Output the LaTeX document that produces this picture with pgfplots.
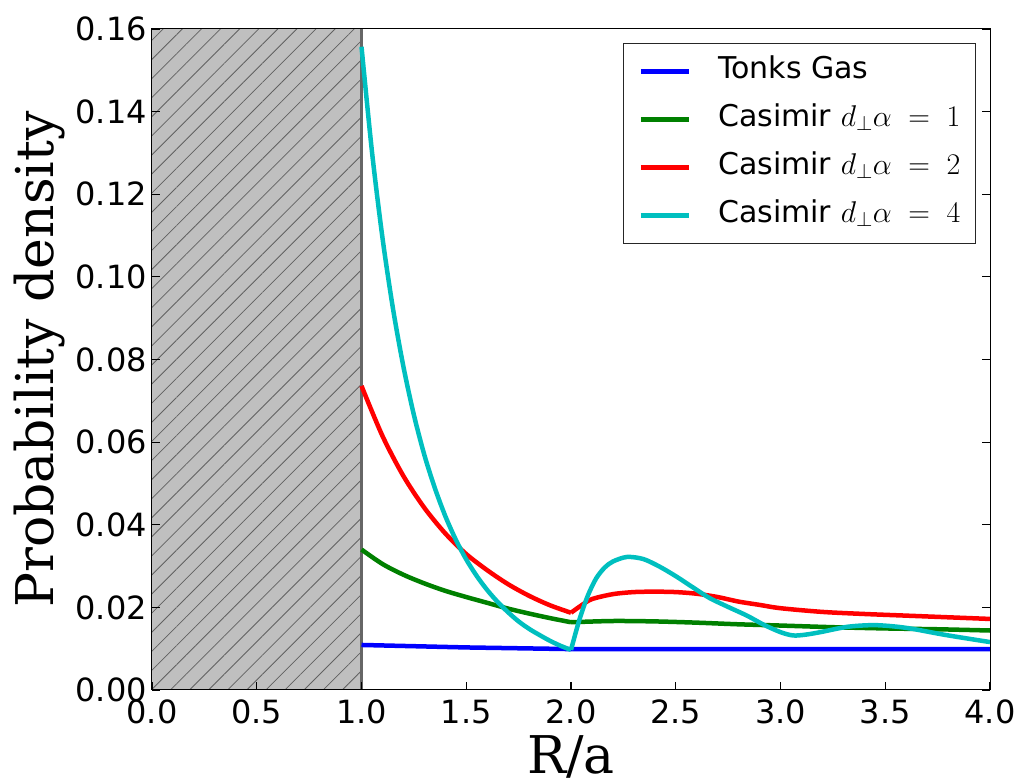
\RequirePackage{fix-cm}
\documentclass[border=0pt]{standalone}
\usepackage{pgfplots}
\pgfplotsset{compat=1.18}
\usepackage{fontspec}
\setmainfont{DejaVu Sans}
\newfontfamily\dvserif{DejaVu Serif}
\usetikzlibrary{patterns.meta}
\definecolor{mplgreen}{rgb}{0,0.5,0}
\definecolor{mplcyan}{rgb}{0,0.75,0.75}
\definecolor{hatchbg}{gray}{0.75}
\definecolor{hatchline}{gray}{0.38}
\begin{document}
\begin{tikzpicture}
\path[use as bounding box] (0,0) rectangle (1021pt,784pt);
\begin{axis}[
  at={(152pt,94pt)}, anchor=south west,
  scale only axis, width=838pt, height=661pt,
  xmin=0, xmax=4, ymin=0, ymax=0.16,
  xtick={0,0.5,1,1.5,2,2.5,3,3.5,4},
  xticklabels={0.0,0.5,1.0,1.5,2.0,2.5,3.0,3.5,4.0},
  ytick={0,0.02,0.04,0.06,0.08,0.10,0.12,0.14,0.16},
  yticklabels={0.00,0.02,0.04,0.06,0.08,0.10,0.12,0.14,0.16},
  xtick pos=bottom, ytick pos=both,
  tick align=inside, major tick length=8pt,
  tick style={black, line width=1.2pt},
  axis line style={black, line width=1pt},
  scaled y ticks=false,
  xticklabel style={font=\fontsize{32}{32}\selectfont, inner sep=0pt, anchor=north, yshift=-10pt},
  yticklabel style={font=\fontsize{32}{32}\selectfont, inner sep=0pt, anchor=east, xshift=-5pt},
  xlabel={R/a}, ylabel={Probability density},
  xlabel style={font=\dvserif\fontsize{52}{52}\selectfont, at={(axis description cs:0.5,0)}, anchor=base, inner sep=0pt, yshift=-84pt},
  ylabel style={font=\dvserif\fontsize{52}{52}\selectfont, at={(axis description cs:-0.1181,0.5)}, anchor=base, inner sep=0pt},
  axis on top,
  legend cell align=left,
  legend style={at={(1,1)}, xshift=-14pt, yshift=-14pt, anchor=north east,
    draw=black!85, line width=1pt, fill=white,
    font=\fontsize{30}{30}\selectfont,
    inner xsep=15pt, inner ysep=13pt, row sep=18pt,
    nodes={inner sep=0pt, text height=22pt, text depth=8pt},
    /tikz/every odd column/.append style={column sep=27pt}},
  legend image code/.code={\draw[#1, line width=4.5pt] (0pt,0pt) -- (48pt,0pt);},
  every axis plot/.append style={line width=4.5pt, line join=round},
]
\addplot[forget plot, draw=hatchline, line width=1pt, fill=hatchbg,
  postaction={pattern={Lines[angle=45,distance=13.5pt,line width=0.8pt]}, pattern color=hatchline}]
  coordinates {(0,0) (1,0) (1,0.16) (0,0.16)} -- cycle;
\addplot[forget plot, draw=black!60, line width=2.5pt] coordinates {(1,0) (1,0.16)};

% Tonks gas
\addplot[blue, line width=4.5pt] coordinates {(1.0,0.0109) (1.25,0.0106) (1.5,0.0103) (1.75,0.0101) (2.0,0.0099) (2.5,0.0099) (3.0,0.0099) (3.5,0.0099) (4.0,0.0099)};
\addlegendentry{Tonks Gas}
% d alpha = 1
\addplot[mplgreen, smooth, line width=4.5pt] coordinates {(1.0,0.0340) (1.1,0.0305) (1.2,0.0279) (1.3,0.0258) (1.4,0.0240) (1.5,0.0225) (1.6,0.0211) (1.7,0.0197) (1.8,0.0185) (1.9,0.0174) (2.0,0.0164)};
\addlegendentry{Casimir $d_{\perp}\alpha\;=\;1$}
% d alpha = 2
\addplot[red, smooth, line width=4.5pt] coordinates {(1.0,0.0736) (1.1,0.0615) (1.2,0.0518) (1.3,0.0441) (1.4,0.0379) (1.5,0.0329) (1.6,0.0290) (1.7,0.0256) (1.8,0.0228) (1.9,0.0205) (2.0,0.0187)};
\addlegendentry{Casimir $d_{\perp}\alpha\;=\;2$}
% d alpha = 4
\addplot[mplcyan, smooth, line width=4.5pt] coordinates {(1.00,0.1557) (1.05,0.1303) (1.10,0.1095) (1.15,0.0924) (1.20,0.0783) (1.25,0.0666) (1.30,0.0569) (1.35,0.0489) (1.40,0.0421) (1.45,0.0364) (1.50,0.0316) (1.55,0.0276) (1.60,0.0242) (1.65,0.0213) (1.70,0.0188) (1.75,0.0166) (1.80,0.0148) (1.85,0.0133) (1.90,0.0119) (1.95,0.0107) (2.00,0.0097)};
\addlegendentry{Casimir $d_{\perp}\alpha\;=\;4$}

% segments beyond R/a = 2
\addplot[forget plot, mplgreen, smooth, line width=4.5pt] coordinates {(2.0,0.0164) (2.2,0.0167) (2.4,0.0166) (2.6,0.0163) (2.8,0.0159) (3.0,0.0156) (3.25,0.0152) (3.5,0.0149) (3.75,0.0147) (4.0,0.0144)};
\addplot[forget plot, red, smooth, line width=4.5pt] coordinates {(2.0,0.0187) (2.05,0.0205) (2.1,0.0220) (2.2,0.0232) (2.3,0.0237) (2.4,0.0238) (2.5,0.0237) (2.6,0.0233) (2.7,0.0225) (2.8,0.0214) (2.9,0.0206) (3.0,0.0198) (3.2,0.0189) (3.4,0.0184) (3.6,0.0180) (3.8,0.0176) (4.0,0.0172)};
\addplot[forget plot, mplcyan, smooth, line width=4.5pt] coordinates {(2.0,0.0097) (2.04,0.0170) (2.08,0.0228) (2.12,0.0270) (2.16,0.0296) (2.2,0.0311) (2.267,0.0322) (2.345,0.0317) (2.425,0.0298) (2.505,0.0274) (2.58,0.0249) (2.66,0.0223) (2.75,0.0201) (2.84,0.0180) (2.92,0.0158) (3.0,0.0140) (3.06,0.0132) (3.12,0.0134) (3.19,0.0140) (3.32,0.0153) (3.44,0.0157) (3.54,0.0154) (3.63,0.0148) (3.79,0.0133) (4.0,0.0116)};
\end{axis}
\end{tikzpicture}
\end{document}
